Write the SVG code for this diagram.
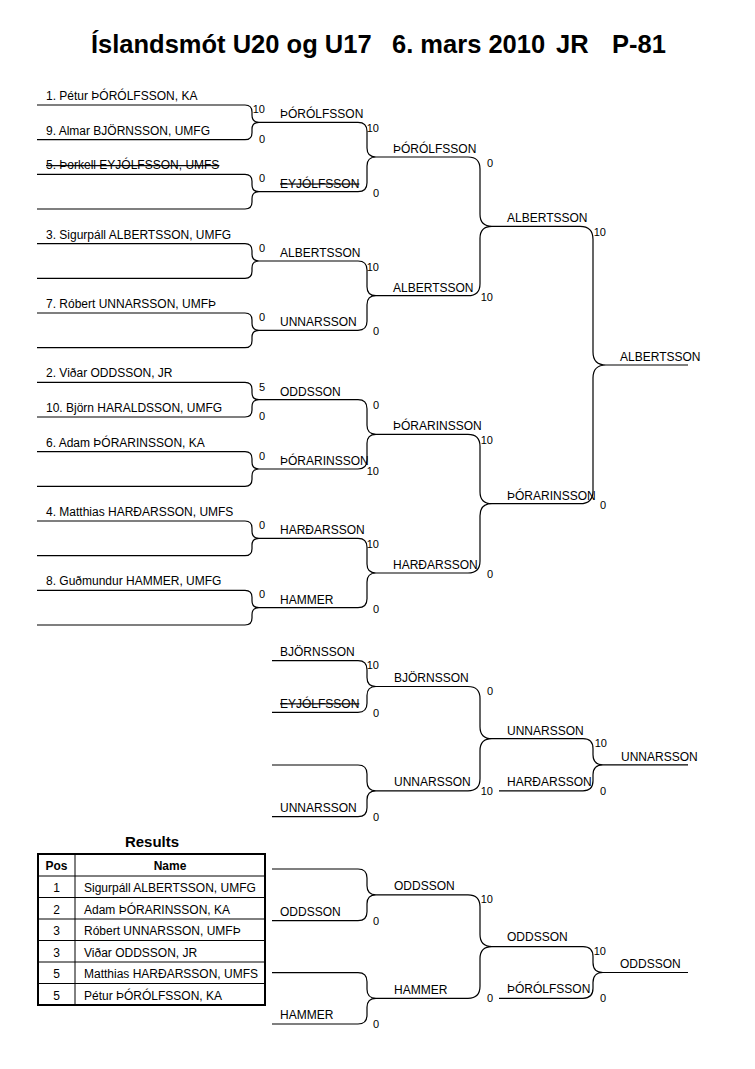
<svg xmlns="http://www.w3.org/2000/svg" width="755" height="1069" viewBox="0 0 755 1069">
<style>
.ln{fill:none;stroke:#000;stroke-width:1.2}
text{font-family:"Liberation Sans",Arial,sans-serif;font-size:12px;fill:#000}
.sc{font-size:11px;text-anchor:end}
.st{text-decoration:line-through}
.b{font-weight:bold}
.c{text-anchor:middle}
.ttl{font-size:25.5px;font-weight:bold}
.rh{font-size:15px;font-weight:bold;text-anchor:middle}
</style>
<rect width="755" height="1069" fill="#fff"/>
<g id="title"><text class="ttl" y="53"><tspan x="91">Íslandsmót U20 og U17</tspan><tspan x="392">6. mars 2010</tspan><tspan x="556">JR</tspan><tspan x="612">P-81</tspan></text></g>

<g id="connectors">
<path class="ln" d="M37 105 H245 Q252 105 252 112 V115.33 Q252 122.33 259 122.33 M37 139.67 H245 Q252 139.67 252 132.67 V129.33 Q252 122.33 259 122.33"/>
<path class="ln" d="M37 174.33 H245 Q252 174.33 252 181.33 V184.67 Q252 191.67 259 191.67 M37 209 H245 Q252 209 252 202 V198.67 Q252 191.67 259 191.67"/>
<path class="ln" d="M37 243.67 H245 Q252 243.67 252 250.67 V254 Q252 261 259 261 M37 278.33 H245 Q252 278.33 252 271.33 V268 Q252 261 259 261"/>
<path class="ln" d="M37 313 H245 Q252 313 252 320 V323.33 Q252 330.33 259 330.33 M37 347.67 H245 Q252 347.67 252 340.67 V337.33 Q252 330.33 259 330.33"/>
<path class="ln" d="M37 382.33 H245 Q252 382.33 252 389.33 V392.67 Q252 399.67 259 399.67 M37 417 H245 Q252 417 252 410 V406.67 Q252 399.67 259 399.67"/>
<path class="ln" d="M37 451.67 H245 Q252 451.67 252 458.67 V462 Q252 469 259 469 M37 486.33 H245 Q252 486.33 252 479.33 V476 Q252 469 259 469"/>
<path class="ln" d="M37 521 H245 Q252 521 252 528 V531.33 Q252 538.33 259 538.33 M37 555.67 H245 Q252 555.67 252 548.67 V545.33 Q252 538.33 259 538.33"/>
<path class="ln" d="M37 590.33 H245 Q252 590.33 252 597.33 V600.67 Q252 607.67 259 607.67 M37 625 H245 Q252 625 252 618 V614.67 Q252 607.67 259 607.67"/>
<path class="ln" d="M259 122.33 H358 Q367 122.33 367 131.33 V148 Q367 157 376 157 M259 191.67 H358 Q367 191.67 367 182.67 V166 Q367 157 376 157"/>
<path class="ln" d="M259 261 H358 Q367 261 367 270 V286.67 Q367 295.67 376 295.67 M259 330.33 H358 Q367 330.33 367 321.33 V304.67 Q367 295.67 376 295.67"/>
<path class="ln" d="M259 399.67 H358 Q367 399.67 367 408.67 V425.33 Q367 434.33 376 434.33 M259 469 H358 Q367 469 367 460 V443.33 Q367 434.33 376 434.33"/>
<path class="ln" d="M259 538.33 H358 Q367 538.33 367 547.33 V564 Q367 573 376 573 M259 607.67 H358 Q367 607.67 367 598.67 V582 Q367 573 376 573"/>
<path class="ln" d="M376 157 H468 Q480 157 480 169 V214.33 Q480 226.33 492 226.33 M376 295.67 H468 Q480 295.67 480 283.67 V238.33 Q480 226.33 492 226.33"/>
<path class="ln" d="M376 434.33 H468 Q480 434.33 480 446.33 V491.67 Q480 503.67 492 503.67 M376 573 H468 Q480 573 480 561 V515.67 Q480 503.67 492 503.67"/>
<path class="ln" d="M492 226.33 H580 Q593 226.33 593 239.33 V352 Q593 365 606 365 M492 503.67 H580 Q593 503.67 593 490.67 V378 Q593 365 606 365 M606 365 H688"/>
<path class="ln" d="M272 660.7 H358 Q367 660.7 367 669.7 V677.5 Q367 686.5 376 686.5 M272 712.3 H358 Q367 712.3 367 703.3 V695.5 Q367 686.5 376 686.5"/>
<path class="ln" d="M272 765 H358 Q367 765 367 774 V781.85 Q367 790.85 376 790.85 M272 816.7 H358 Q367 816.7 367 807.7 V799.85 Q367 790.85 376 790.85"/>
<path class="ln" d="M376 686.5 H468 Q480 686.5 480 698.5 V726.7 Q480 738.7 492 738.7 M376 790.85 H468 Q480 790.85 480 778.85 V750.7 Q480 738.7 492 738.7"/>
<path class="ln" d="M492 738.7 H583 Q593 738.7 593 748.7 V754.8 Q593 764.8 603 764.8 M499 790.85 H583 Q593 790.85 593 780.85 V774.8 Q593 764.8 603 764.8 M603 764.8 H688"/>
<path class="ln" d="M272 869 H358 Q367 869 367 878 V885.85 Q367 894.85 376 894.85 M272 920.7 H358 Q367 920.7 367 911.7 V903.85 Q367 894.85 376 894.85"/>
<path class="ln" d="M272 972.7 H358 Q367 972.7 367 981.7 V989.35 Q367 998.35 376 998.35 M272 1024 H358 Q367 1024 367 1015 V1007.35 Q367 998.35 376 998.35"/>
<path class="ln" d="M376 894.85 H468 Q480 894.85 480 906.85 V934.6 Q480 946.6 492 946.6 M376 998.35 H468 Q480 998.35 480 986.35 V958.6 Q480 946.6 492 946.6"/>
<path class="ln" d="M492 946.6 H583 Q593 946.6 593 956.6 V962.5 Q593 972.5 603 972.5 M499 998.35 H583 Q593 998.35 593 988.35 V982.5 Q593 972.5 603 972.5 M603 972.5 H688"/>
</g>

<g id="round1">
<text x="46" y="100">1. Pétur ÞÓRÓLFSSON, KA</text>
<text x="46" y="134.7">9. Almar BJÖRNSSON, UMFG</text>
<text x="46" y="169.3" class="st">5. Þorkell EYJÓLFSSON, UMFS</text>
<text x="46" y="238.7">3. Sigurpáll ALBERTSSON, UMFG</text>
<text x="46" y="308">7. Róbert UNNARSSON, UMFÞ</text>
<text x="46" y="377.3">2. Viðar ODDSSON, JR</text>
<text x="46" y="412">10. Björn HARALDSSON, UMFG</text>
<text x="46" y="446.7">6. Adam ÞÓRARINSSON, KA</text>
<text x="46" y="516">4. Matthias HARÐARSSON, UMFS</text>
<text x="46" y="585.3">8. Guðmundur HAMMER, UMFG</text>
<text class="sc" x="265" y="113">10</text>
<text class="sc" x="265" y="142.7">0</text>
<text class="sc" x="265" y="182">0</text>
<text class="sc" x="265" y="251.7">0</text>
<text class="sc" x="265" y="321">0</text>
<text class="sc" x="265" y="391">5</text>
<text class="sc" x="265" y="420">0</text>
<text class="sc" x="265" y="459.7">0</text>
<text class="sc" x="265" y="529">0</text>
<text class="sc" x="265" y="598.3">0</text>
</g>

<g id="round2">
<text x="280" y="118.3">ÞÓRÓLFSSON</text>
<text x="280" y="187.7" class="st">EYJÓLFSSON</text>
<text x="280" y="257">ALBERTSSON</text>
<text x="280" y="326.3">UNNARSSON</text>
<text x="280" y="395.7">ODDSSON</text>
<text x="280" y="465">ÞÓRARINSSON</text>
<text x="280" y="534.3">HARÐARSSON</text>
<text x="280" y="603.7">HAMMER</text>
<text class="sc" x="379" y="132">10</text>
<text class="sc" x="379" y="196.7">0</text>
<text class="sc" x="379" y="270.7">10</text>
<text class="sc" x="379" y="335.3">0</text>
<text class="sc" x="379" y="409.3">0</text>
<text class="sc" x="379" y="475">10</text>
<text class="sc" x="379" y="548">10</text>
<text class="sc" x="379" y="612.7">0</text>
</g>

<g id="round3">
<text x="393" y="153">ÞÓRÓLFSSON</text>
<text x="393" y="291.7">ALBERTSSON</text>
<text x="393" y="430.3">ÞÓRARINSSON</text>
<text x="393" y="569">HARÐARSSON</text>
<text class="sc" x="493" y="166.5">0</text>
<text class="sc" x="493" y="300.7">10</text>
<text class="sc" x="493" y="443.5">10</text>
<text class="sc" x="493" y="578">0</text>
</g>

<g id="round4">
<text x="507" y="222.3">ALBERTSSON</text>
<text x="507" y="499.7">ÞÓRARINSSON</text>
<text class="sc" x="606" y="236">10</text>
<text class="sc" x="606" y="508.5">0</text>
</g>

<g id="winner">
<text x="620" y="360.7">ALBERTSSON</text>
</g>

<g id="consolationA">
<text x="280" y="655.5">BJÖRNSSON</text>
<text x="280" y="707.5" class="st">EYJÓLFSSON</text>
<text x="280" y="811.7">UNNARSSON</text>
<text class="sc" x="379" y="669">10</text>
<text class="sc" x="379" y="716.7">0</text>
<text class="sc" x="379" y="820.5">0</text>
<text x="394" y="682">BJÖRNSSON</text>
<text x="394" y="786">UNNARSSON</text>
<text class="sc" x="493" y="695">0</text>
<text class="sc" x="493" y="795">10</text>
<text x="507" y="734.5">UNNARSSON</text>
<text x="507" y="786">HARÐARSSON</text>
<text class="sc" x="607" y="746.7">10</text>
<text class="sc" x="606" y="794.5">0</text>
<text x="621" y="760.5">UNNARSSON</text>
</g>

<g id="consolationB">
<text x="280" y="915.5">ODDSSON</text>
<text x="280" y="1018.5">HAMMER</text>
<text class="sc" x="379" y="924.5">0</text>
<text class="sc" x="379" y="1028">0</text>
<text x="394" y="889.5">ODDSSON</text>
<text x="394" y="993.5">HAMMER</text>
<text class="sc" x="493" y="903">10</text>
<text class="sc" x="493" y="1002">0</text>
<text x="507" y="941">ODDSSON</text>
<text x="507" y="993">ÞÓRÓLFSSON</text>
<text class="sc" x="606" y="954.5">10</text>
<text class="sc" x="606" y="1002">0</text>
<text x="620" y="967.5">ODDSSON</text>
</g>

<g id="results">
<text class="rh" x="152" y="847">Results</text>
<g fill="none" stroke="#000">
<rect x="38" y="854" width="227" height="151" stroke-width="2"/>
<path stroke-width="1" d="M75 854 V1005 M38 876 H265 M38 897.5 H265 M38 919 H265 M38 940.5 H265 M38 962 H265 M38 983.5 H265"/>
</g>
<text class="b c" x="56.5" y="870">Pos</text>
<text class="b c" x="170" y="870">Name</text>
<text class="c" x="56.5" y="892">1</text>
<text x="84" y="892">Sigurpáll ALBERTSSON, UMFG</text>
<text class="c" x="56.5" y="913.5">2</text>
<text x="84" y="913.5">Adam ÞÓRARINSSON, KA</text>
<text class="c" x="56.5" y="935">3</text>
<text x="84" y="935">Róbert UNNARSSON, UMFÞ</text>
<text class="c" x="56.5" y="956.5">3</text>
<text x="84" y="956.5">Viðar ODDSSON, JR</text>
<text class="c" x="56.5" y="978">5</text>
<text x="84" y="978">Matthias HARÐARSSON, UMFS</text>
<text class="c" x="56.5" y="999.5">5</text>
<text x="84" y="999.5">Pétur ÞÓRÓLFSSON, KA</text>
</g>
</svg>
